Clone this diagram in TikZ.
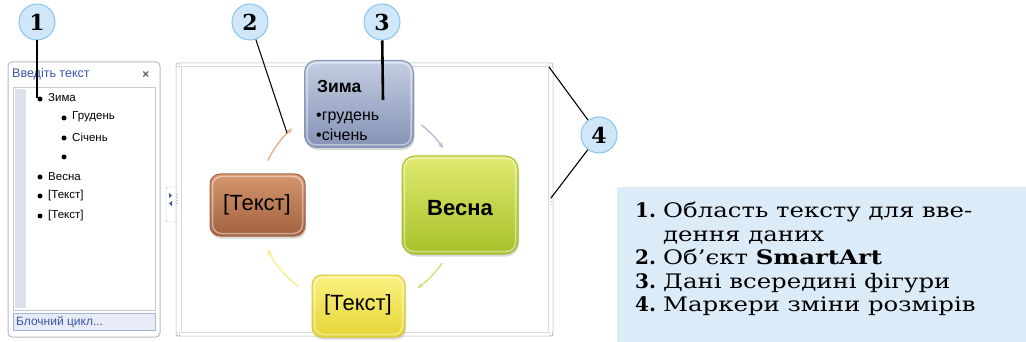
\documentclass[tikz,border=0pt]{standalone}
\usepackage{fontspec}
\setmainfont{DejaVu Serif}[FakeStretch=1.22]
\newfontfamily\numf{DejaVu Serif}
\newfontfamily\ui{Liberation Sans}
\usetikzlibrary{arrows.meta,shadows,calc}
\definecolor{circf}{HTML}{CFE7F8}
\definecolor{circd}{HTML}{86C5EE}
\definecolor{legf}{HTML}{DCEBF8}
\definecolor{uiblue}{HTML}{3A56A8}
\definecolor{pane}{HTML}{B4BAC6}
\definecolor{strip}{HTML}{DDE1EE}
\definecolor{zt}{HTML}{C4CEE3}\definecolor{zb}{HTML}{8492B4}\definecolor{zd}{HTML}{8A98B8}
\definecolor{vt}{HTML}{E0EA70}\definecolor{vb}{HTML}{A8C02A}\definecolor{vd}{HTML}{A6BC30}
\definecolor{bt}{HTML}{D5976E}\definecolor{bb}{HTML}{A2603E}\definecolor{bd}{HTML}{A86848}
\definecolor{yt}{HTML}{FAF282}\definecolor{yb}{HTML}{E6D436}\definecolor{yd}{HTML}{D8C83A}
\begin{document}
\begin{tikzpicture}[x=1pt,y=-1pt,
  numc/.style={circle,draw=circd,fill=circf,line width=1pt,minimum size=36pt,inner sep=0pt,font=\numf\bfseries\fontsize{22}{22}\selectfont},
  ptr/.style={line width=1.1pt},
  lst/.style={anchor=west,inner sep=0pt,font=\ui\fontsize{11.5}{11.5}\selectfont},
  bul/.style={circle,fill=black,inner sep=0pt,minimum size=5pt},
  leg/.style={anchor=base west,inner sep=0pt,font=\fontsize{20}{20}\selectfont},
  legn/.style={anchor=base west,inner sep=0pt,font=\numf\bfseries\fontsize{20}{20}\selectfont},
  sa/.style n args={3}{draw=#3,top color=#1,bottom color=#2,line width=1pt,
     drop shadow={shadow xshift=1pt,shadow yshift=-2.5pt,opacity=.3}},
  cyc/.style={line width=1.5pt,-{Stealth[length=6pt,width=5pt]}},
  hnd/.style={fill=gray!70,inner sep=0pt,minimum size=1.3pt,circle},
  frm/.style={draw=gray!30,line width=1pt}
]
\useasboundingbox (0,0) rectangle (1026,342);
% ---------- text pane ----------
\draw[pane,fill=white,rounded corners=4pt,line width=1pt] (8,62) rectangle (160,337);
\node[anchor=west,inner sep=0pt,text=uiblue,font=\ui\fontsize{12.5}{12.5}\selectfont] (title) at (12,74) {Введіть текст};
\node[inner sep=0pt,text=gray!70!black,font=\ui\bfseries\fontsize{12}{12}\selectfont] (close) at (146,75) {×};
\draw[pane!80,fill=white] (13,87) rectangle (155,310);
\fill[strip] (15,89) rectangle (26,308);
\draw[uiblue!45,fill=uiblue!12] (13,313) rectangle (155,330);
\node[anchor=west,inner sep=0pt,text=uiblue,font=\ui\fontsize{12}{12}\selectfont] (block) at (16,322) {Блочний цикл...};
\foreach \bx/\by in {40/99,64/118,64/138,64/157,40/177,40/196,40/216}{\node[bul] at (\bx,\by) {};}
\node[lst] (i1) at (48,98) {Зима};
\node[lst] (i2) at (72,117) {Грудень};
\node[lst] (i3) at (72,137) {Січень};
\node[lst] (i5) at (48,177) {Весна};
\node[lst] (i6) at (48,196) {[Текст]};
\node[lst] (i7) at (48,216) {[Текст]};
\coordinate (t1) at (37,98);
% collapse tab
\draw[pane,fill=white,rounded corners=2pt] (177,187) -- (166,187) -- (166,222) -- (177,222);
\fill[uiblue] (169,193) -- (172,195.5) -- (169,198) -- cycle;
\fill[uiblue] (172,201) -- (169,203.5) -- (172,206) -- cycle;
% ---------- SmartArt frame ----------
\draw[frm,rounded corners=2pt] (176,63) rectangle (553,336);
\draw[frm] (181,67) rectangle (548,332);
\foreach \px/\py in {177/64,550/64,177/333,550/333}{
  \foreach \dx/\dy in {0/0,2.5/0,0/2.5,2.5/2.5}{\node[hnd] at (\px+\dx,\py+\dy) {};}}
\foreach \dx in {-4.5,-1.5,1.5,4.5}{\node[hnd] at (359+\dx,63) {};\node[hnd] at (359+\dx,336) {};}
\foreach \dy in {-4.5,-1.5,1.5,4.5}{\node[hnd] at (177,199+\dy) {};\node[hnd] at (551,200+\dy) {};}
\coordinate (h1) at (549,67);
\coordinate (h2) at (551,198);
% cycle arrows
\coordinate (ctr) at (359,205);
\draw[cyc,draw={rgb,255:red,180;green,192;blue,218}] ($(ctr)+(52:101.5pt)$) arc[start angle=52,end angle=34,radius=101.5pt];
\draw[cyc,draw={rgb,255:red,212;green,222;blue,130}] ($(ctr)+(-35:101.5pt)$) arc[start angle=-35,end angle=-55,radius=101.5pt];
\draw[cyc,draw={rgb,255:red,246;green,238;blue,150}] ($(ctr)+(-127:101.5pt)$) arc[start angle=-127,end angle=-154,radius=101.5pt];
\draw[cyc,draw={rgb,255:red,232;green,178;blue,144}] ($(ctr)+(154:101.5pt)$) arc[start angle=154,end angle=131,radius=101.5pt];
\coordinate (t2) at (287,133);
% shapes
\node[sa={zt}{zb}{zd},minimum width=109pt,minimum height=87pt,rounded corners=12pt] (zima) at (359,104) {};
\node[sa={vt}{vb}{vd},minimum width=116pt,minimum height=98pt,rounded corners=13pt] (vesna) at (460,205) {};
\node[sa={bt}{bb}{bd},minimum width=95pt,minimum height=62pt,rounded corners=10pt] (brn) at (257.5,205) {};
\node[sa={yt}{yb}{yd},minimum width=93pt,minimum height=62pt,rounded corners=10pt] (ylw) at (358.5,306) {};
\foreach \n in {zima,vesna,brn,ylw}{
  \draw[white,opacity=.45,line width=1.5pt,rounded corners=9pt] ([shift={(3pt,-3pt)}]\n.north west) rectangle ([shift={(-3pt,3pt)}]\n.south east);}
\node[anchor=west,inner sep=0pt,font=\ui\bfseries\fontsize{17.5}{17.5}\selectfont] (zt1) at (317,86) {Зима};
\node[anchor=west,inner sep=0pt,font=\ui\fontsize{16}{16}\selectfont] (zt2) at (316,118) {•грудень};
\node[anchor=west,inner sep=0pt,font=\ui\fontsize{16}{16}\selectfont] (zt3) at (316,135) {•січень};
\node[inner sep=0pt,font=\ui\bfseries\fontsize{22}{22}\selectfont] (vt1) at (460,208) {Весна};
\node[inner sep=0pt,font=\ui\fontsize{22}{22}\selectfont] (bt1) at (257,205) {[Текст]};
\node[inner sep=0pt,font=\ui\fontsize{22}{22}\selectfont] (yt1) at (358,305) {[Текст]};
\coordinate (t3) at (383,100);
% ---------- callouts ----------
\node[numc] (c1) at (37,22) {1};
\node[numc] (c2) at (250,22) {2};
\node[numc] (c3) at (382,22) {3};
\node[numc] (c4) at (599,135) {4};
\draw[ptr] (c1) -- (t1);
\draw[ptr] (c2) -- (t2);
\draw[line width=2.6pt] (c3) -- (t3);
\draw[ptr] (c4) -- (h1);
\draw[ptr] (c4) -- (h2);
% ---------- legend ----------
\fill[legf] (617,187) rectangle (1026,342);
\node[legn] (n1) at (635,217.5) {1.};
\node[leg] (l1) at (663,217.5) {Область тексту для вве-};
\node[leg] (l1b) at (663,241) {дення даних};
\node[legn] (n2) at (635,264.5) {2.};
\node[leg] (l2) at (663,264.5) {Об’єкт \textbf{SmartArt}};
\node[legn] (n3) at (635,288) {3.};
\node[leg] (l3) at (663,288) {Дані всередині фігури};
\node[legn] (n4) at (635,311.5) {4.};
\node[leg] (l4) at (663,311.5) {Маркери зміни розмірів};
\end{tikzpicture}
\end{document}
